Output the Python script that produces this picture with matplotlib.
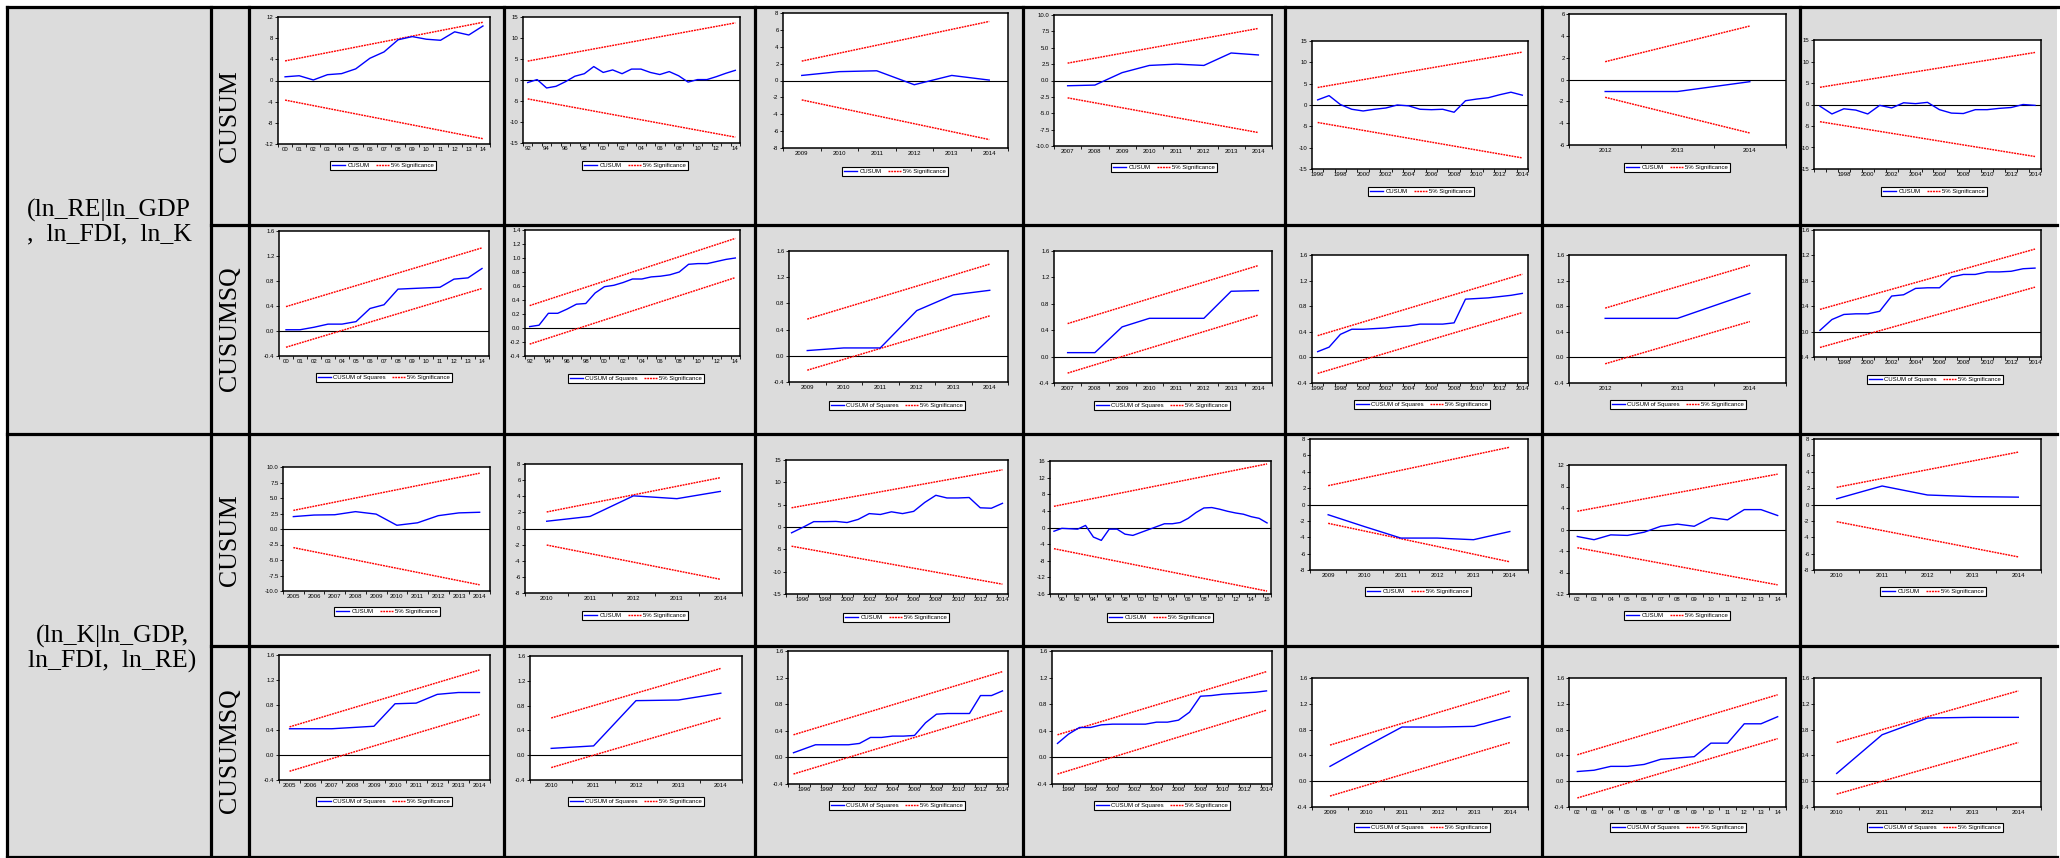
import numpy as np
import matplotlib
matplotlib.use("Agg")
import matplotlib.pyplot as plt
from matplotlib.lines import Line2D
from matplotlib.patches import Rectangle

W, H = 2060, 858

# ------------------------------------------------------------------
# DATA
# ------------------------------------------------------------------
row_labels = ["(ln_RE|ln_GDP\n,  ln_FDI,  ln_K", "(ln_K|ln_GDP,\nln_FDI,  ln_RE)"]
test_labels = ["CUSUM", "CUSUMSQ"]

# --- Row 1: CUSUM, (ln_RE | ln_GDP, ln_FDI, ln_K) ---
re_cusum_start = [2000, 1992, 2009, 2007, 1996, 2012, 1996]
re_cusum_p1 = [0.7, 0.9, 0.1, 1.1, 1.3, 2.2, 4.2, 5.4, 7.7, 8.3, 7.8, 7.6, 9.2, 8.6, 10.3]
re_cusum_p2 = [-0.6, 0.1, -1.9, -1.5, -0.4, 0.9, 1.5, 3.2, 1.8, 2.4, 1.5, 2.6, 2.6, 1.8,
               1.3, 2.0, 1.0, -0.5, 0.1, 0.1, 0.8, 1.6, 2.3]
re_cusum_p3 = [0.6, 1.05, 1.15, -0.5, 0.6, 0.05]
re_cusum_p4 = [-0.8, -0.7, 1.2, 2.3, 2.5, 2.3, 4.2, 3.9]
re_cusum_p5 = [1.2, 2.2, 0.1, -1.0, -1.4, -1.0, -0.7, 0.0, -0.2, -1.0, -1.1, -1.0, -1.7,
               1.0, 1.4, 1.7, 2.4, 3.0, 2.3]
re_cusum_p6 = [-1.1, -1.1, -0.2]
re_cusum_p7 = [-0.4, -2.2, -1.0, -1.3, -2.2, -0.2, -0.8, 0.4, 0.2, 0.5, -1.2, -2.0, -2.1,
               -1.2, -1.2, -0.9, -0.7, 0.0, -0.2]
# 5% significance (upper line, first & last year); lower line is its mirror
re_cusum_bound = [(3.7, 11.0), (4.5, 13.6), (2.3, 7.0), (2.65, 7.95), (4.1, 12.4),
                  (1.63, 4.9), (4.0, 12.1)]

# --- Row 2: CUSUM of squares, (ln_RE | ...) ---
re_cusq_start = [2000, 1992, 2009, 2007, 1996, 2012, 1996]
re_cusq_p1 = [0.02, 0.02, 0.06, 0.11, 0.11, 0.15, 0.36, 0.42, 0.67, 0.68, 0.69, 0.70,
              0.83, 0.85, 1.0]
re_cusq_p2 = [0.02, 0.04, 0.21, 0.21, 0.27, 0.34, 0.35, 0.50, 0.59, 0.61, 0.65, 0.70,
              0.70, 0.73, 0.74, 0.76, 0.80, 0.91, 0.92, 0.92, 0.95, 0.98, 1.0]
re_cusq_p3 = [0.08, 0.12, 0.12, 0.69, 0.93, 1.0]
re_cusq_p4 = [0.06, 0.06, 0.45, 0.58, 0.58, 0.58, 0.99, 1.0]
re_cusq_p5 = [0.09, 0.16, 0.36, 0.44, 0.44, 0.45, 0.46, 0.48, 0.49, 0.52, 0.52, 0.52,
              0.54, 0.91, 0.92, 0.93, 0.95, 0.97, 1.0]
re_cusq_p6 = [0.61, 0.61, 1.0]
re_cusq_p7 = [0.02, 0.19, 0.27, 0.28, 0.28, 0.32, 0.56, 0.58, 0.68, 0.69, 0.69, 0.86,
              0.90, 0.90, 0.94, 0.94, 0.95, 0.99, 1.0]
re_cusq_upper = [(0.39, 1.33), (0.32, 1.28), (0.56, 1.40), (0.50, 1.38), (0.34, 1.30),
                 (0.77, 1.44), (0.35, 1.30)]
re_cusq_lower = [(-0.26, 0.68), (-0.23, 0.72), (-0.22, 0.61), (-0.25, 0.63), (-0.25, 0.70),
                 (-0.10, 0.56), (-0.25, 0.70)]

# --- Row 3: CUSUM, (ln_K | ln_GDP, ln_FDI, ln_RE) ---
k_cusum_start = [2005, 2010, 1995, 1989, 2009, 2002, 2010]
k_cusum_p1 = [2.0, 2.25, 2.3, 2.8, 2.4, 0.6, 1.0, 2.15, 2.6, 2.7]
k_cusum_p2 = [0.9, 1.5, 4.05, 3.7, 4.6]
k_cusum_p3 = [-1.3, -0.1, 1.2, 1.2, 1.25, 1.0, 1.7, 3.0, 2.8, 3.4, 3.0, 3.5, 5.5, 7.1,
              6.5, 6.5, 6.6, 4.3, 4.2, 5.3]
k_cusum_p4 = [-0.9, -0.2, -0.3, -0.4, 0.5, -2.3, -3.1, -0.4, -0.4, -1.6, -1.9, -1.2, -0.5,
              0.2, 0.9, 0.9, 1.2, 2.2, 3.6, 4.7, 4.8, 4.4, 3.9, 3.5, 3.2, 2.6, 2.2, 1.1]
k_cusum_p5 = [-1.25, -2.7, -4.1, -4.1, -4.3, -3.3]
k_cusum_p6 = [-1.3, -1.9, -1.0, -1.1, -0.5, 0.6, 1.0, 0.6, 2.2, 1.8, 3.7, 3.7, 2.6]
k_cusum_p7 = [0.7, 2.26, 1.16, 0.96, 0.9]
k_cusum_bound = [(3.0, 9.0), (2.05, 6.3), (4.3, 12.8), (5.1, 15.3), (2.3, 7.0),
                 (3.4, 10.3), (2.1, 6.4)]

# --- Row 4: CUSUM of squares, (ln_K | ...) ---
k_cusq_start = [2005, 2010, 1995, 1995, 2009, 2002, 2010]
k_cusq_p1 = [0.42, 0.42, 0.42, 0.44, 0.46, 0.82, 0.83, 0.97, 1.0, 1.0]
k_cusq_p2 = [0.11, 0.15, 0.88, 0.89, 1.0]
k_cusq_p3 = [0.07, 0.13, 0.19, 0.19, 0.19, 0.19, 0.21, 0.30, 0.30, 0.32, 0.32, 0.33,
             0.52, 0.65, 0.66, 0.66, 0.66, 0.93, 0.93, 1.0]
k_cusq_p4 = [0.21, 0.35, 0.45, 0.45, 0.49, 0.50, 0.50, 0.50, 0.50, 0.53, 0.53, 0.56,
             0.68, 0.92, 0.93, 0.95, 0.96, 0.97, 0.98, 1.0]
k_cusq_p5 = [0.23, 0.54, 0.84, 0.84, 0.85, 1.0]
k_cusq_p6 = [0.15, 0.17, 0.23, 0.23, 0.26, 0.34, 0.36, 0.38, 0.59, 0.59, 0.89, 0.89, 1.0]
k_cusq_p7 = [0.12, 0.72, 0.98, 0.99, 0.99]
k_cusq_upper = [(0.45, 1.36), (0.60, 1.40), (0.34, 1.29), (0.34, 1.29), (0.56, 1.40),
                (0.41, 1.34), (0.60, 1.40)]
k_cusq_lower = [(-0.26, 0.65), (-0.20, 0.60), (-0.25, 0.70), (-0.25, 0.71), (-0.23, 0.60),
                (-0.26, 0.66), (-0.20, 0.60)]

# x tick labels (first, last, step, two-digit?)
re_xticks = [(2000, 2014, 1, True), (1992, 2014, 2, True), (2009, 2014, 1, False),
             (2007, 2014, 1, False), (1996, 2014, 2, False), (2012, 2014, 1, False),
             (1998, 2014, 2, False)]
k_cusum_xticks = [(2005, 2014, 1, False), (2010, 2014, 1, False), (1996, 2014, 2, False),
                  (1990, 2016, 2, True), (2009, 2014, 1, False), (2002, 2014, 1, True),
                  (2010, 2014, 1, False)]
k_cusq_xticks = [(2005, 2014, 1, False), (2010, 2014, 1, False), (1996, 2014, 2, False),
                 (1996, 2014, 2, False), (2009, 2014, 1, False), (2002, 2014, 1, True),
                 (2010, 2014, 1, False)]

# y axes (min, max, step, format)
re_cusum_yaxis = [(-12, 12, 4, "%d"), (-15, 15, 5, "%d"), (-8, 8, 2, "%d"),
                  (-10, 10, 2.5, "%.1f"), (-15, 15, 5, "%d"), (-6, 6, 2, "%d"),
                  (-15, 15, 5, "%d")]
re_cusq_yaxis = [(-0.4, 1.6, 0.4, "%.1f"), (-0.4, 1.4, 0.2, "%.1f")] + \
                [(-0.4, 1.6, 0.4, "%.1f")] * 5
k_cusum_yaxis = [(-10, 10, 2.5, "%.1f"), (-8, 8, 2, "%d"), (-15, 15, 5, "%d"),
                 (-16, 16, 4, "%d"), (-8, 8, 2, "%d"), (-12, 12, 4, "%d"), (-8, 8, 2, "%d")]
k_cusq_yaxis = [(-0.4, 1.6, 0.4, "%.1f")] * 7

# ------------------------------------------------------------------
# LAYOUT (pixel boxes of the pasted graphs: left, right, top, bottom)
# ------------------------------------------------------------------
boxes = [
    [(278, 490, 17, 144), (523, 740, 17, 143), (783, 1008, 13, 148), (1054, 1272, 15, 146),
     (1312, 1528, 41, 169), (1569, 1786, 14, 145), (1814, 2041, 40, 169)],
    [(279, 489, 231, 356), (525, 740, 230, 356), (789, 1008, 251, 382), (1054, 1272, 251, 383),
     (1312, 1528, 255, 383), (1569, 1786, 255, 383), (1814, 2041, 230, 357)],
    [(283, 490, 467, 591), (525, 742, 464, 593), (786, 1008, 460, 594), (1050, 1271, 461, 594),
     (1310, 1528, 439, 570), (1569, 1786, 465, 594), (1814, 2041, 439, 570)],
    [(279, 490, 655, 780), (530, 742, 656, 780), (788, 1008, 651, 784), (1052, 1272, 651, 784),
     (1312, 1528, 678, 807), (1569, 1786, 678, 807), (1814, 2041, 678, 807)],
]
legend_cx = [[383, 635, 895, 1164, 1421, 1677, 1934],
             [384, 636, 897, 1162, 1422, 1678, 1935],
             [387, 635, 896, 1160, 1418, 1677, 1933],
             [384, 636, 897, 1162, 1422, 1678, 1935]]
legend_top = [[161, 161, 167, 163, 187, 163, 187],
              [373, 374, 401, 401, 400, 400, 375],
              [607, 611, 613, 613, 587, 611, 587],
              [797, 797, 801, 801, 823, 823, 823]]

plt.rcParams["font.family"] = ["Liberation Sans", "DejaVu Sans"]

fig = plt.figure(figsize=(W / 100, H / 100), dpi=100)
fig.patch.set_facecolor("white")
fig.add_artist(Rectangle((7 / W, 0), (2057 - 7) / W, 1 - 7 / H, transform=fig.transFigure,
                         facecolor="#dcdcdc", edgecolor="none", zorder=-5))


def fline(x0, y0, x1, y1, lw=2.3):
    fig.add_artist(Line2D([x0 / W, x1 / W], [1 - y0 / H, 1 - y1 / H], transform=fig.transFigure,
                          color="black", lw=lw, solid_capstyle="projecting", zorder=10))


# table grid
fline(7, 7, 2059, 7)
fline(211, 225, 2057, 225)
fline(7, 434, 2057, 434)
fline(211, 646, 2057, 646)
fline(7, 857, 2057, 857)
for xv in [7, 211, 249, 504, 755, 1023, 1285, 1542, 1800]:
    fline(xv, 7, xv, 858)

# row labels
fig.text(109 / W, 1 - 222 / H, row_labels[0], ha="center", va="center", fontsize=18.5,
         family="Liberation Serif", linespacing=1.12)
fig.text(112 / W, 1 - 649 / H, row_labels[1], ha="center", va="center", fontsize=18.5,
         family="Liberation Serif", linespacing=1.12)
for yc, lab in zip([116, 329, 540, 751], test_labels * 2):
    fig.text(230 / W, 1 - yc / H, lab, ha="center", va="center", rotation=90,
             fontsize=18.5, family="Liberation Serif")

RED_LS = (0, (1.3, 0.6))


def panel(box, cx, ltop, start, vals, up, lo, yaxis, xticks, sq):
    l, r, t, b = box
    ax = fig.add_axes([l / W, 1 - b / H, (r - l) / W, (b - t) / H])
    ax.set_facecolor("white")
    years = np.arange(start, start + len(vals))
    ends = [years[0], years[-1]]
    ax.axhline(0, color="black", lw=0.8, zorder=1)
    ax.plot(years, vals, color="#0000ff", lw=1.0, zorder=3,
            label="CUSUM of Squares" if sq else "CUSUM")
    ax.plot(ends, up, color="#ff0000", lw=1.05, ls=RED_LS, zorder=2, label="5% Significance")
    ax.plot(ends, lo, color="#ff0000", lw=1.05, ls=RED_LS, zorder=2)
    ax.set_xlim(years[0] - 0.5, years[-1] + 0.5)
    y0, y1, ys, yf = yaxis
    ax.set_ylim(y0, y1)
    yt = np.round(np.arange(y0, y1 + ys / 2, ys), 6)
    ax.set_yticks(yt)
    ax.set_yticklabels([yf % (v + 0.0) for v in yt])
    x0, x1, xs, two = xticks
    xt = np.arange(x0, x1 + 1, xs)
    ax.set_xticks(xt)
    ax.set_xticklabels(["%02d" % (v % 100) if two else "%d" % v for v in xt])
    ax.set_xticks(np.arange(years[0] - 0.5, years[-1] + 0.6, 1), minor=True)
    ax.tick_params(axis="x", which="major", length=0, pad=2.5, labelsize=4.3)
    ax.tick_params(axis="x", which="minor", length=2.2, width=0.6, direction="out")
    ax.tick_params(axis="y", which="major", length=2.2, width=0.6, pad=1, labelsize=4.3)
    for s in ax.spines.values():
        s.set_linewidth(1.1)
    leg = ax.legend(loc="upper center", bbox_to_anchor=(cx / W, 1 - ltop / H),
                    bbox_transform=fig.transFigure, ncol=2, fontsize=4.3, handlelength=2.2,
                    handletextpad=0.4, columnspacing=1.0, borderpad=0.3, borderaxespad=0,
                    fancybox=False, framealpha=1, edgecolor="black")
    leg.get_frame().set_linewidth(0.8)
    return ax


rows = [
    (re_cusum_start, [re_cusum_p1, re_cusum_p2, re_cusum_p3, re_cusum_p4, re_cusum_p5,
                      re_cusum_p6, re_cusum_p7],
     [u for u in re_cusum_bound], [(-u[0], -u[1]) for u in re_cusum_bound],
     re_cusum_yaxis, re_xticks, False),
    (re_cusq_start, [re_cusq_p1, re_cusq_p2, re_cusq_p3, re_cusq_p4, re_cusq_p5,
                     re_cusq_p6, re_cusq_p7],
     re_cusq_upper, re_cusq_lower, re_cusq_yaxis, re_xticks, True),
    (k_cusum_start, [k_cusum_p1, k_cusum_p2, k_cusum_p3, k_cusum_p4, k_cusum_p5,
                     k_cusum_p6, k_cusum_p7],
     [u for u in k_cusum_bound], [(-u[0], -u[1]) for u in k_cusum_bound],
     k_cusum_yaxis, k_cusum_xticks, False),
    (k_cusq_start, [k_cusq_p1, k_cusq_p2, k_cusq_p3, k_cusq_p4, k_cusq_p5,
                    k_cusq_p6, k_cusq_p7],
     k_cusq_upper, k_cusq_lower, k_cusq_yaxis, k_cusq_xticks, True),
]

for ri, (starts, series, ups, los, yaxes, xts, sq) in enumerate(rows):
    for ci in range(7):
        panel(boxes[ri][ci], legend_cx[ri][ci], legend_top[ri][ci], starts[ci], series[ci],
              ups[ci], los[ci], yaxes[ci], xts[ci], sq)

fig.savefig("out.png", dpi=100, facecolor="white")
